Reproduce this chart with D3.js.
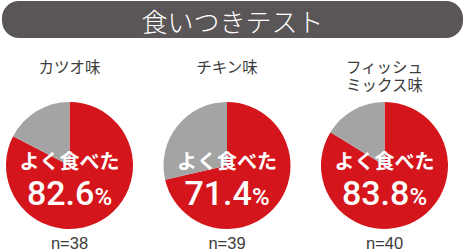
<!DOCTYPE html>
<html>
<head>
<meta charset="utf-8">
<script src="https://cdn.jsdelivr.net/npm/d3@7"></script>
<style>
  body { margin: 0; background: #fff; }
  svg { display: block; }
</style>
</head>
<body>
<svg id="chart" width="465" height="252"></svg>
<script>
// data
const titleText = "食いつきテスト";
const flavors = [["カツオ味"], ["チキン味"], ["フィッシュ", "ミックス味"]];
const goodRates = [82.6, 71.4, 83.8];
const sampleSizes = [38, 39, 40];
const goodLabel = "よく食べた";

const svg = d3.select("#chart");
const red = "#d4161c";
const grey = "#a4a4a4";
const jp = "'Noto Sans CJK JP', 'Noto Sans', sans-serif";

// title bar
svg.append("rect")
    .attr("x", 2).attr("y", 1)
    .attr("width", 461).attr("height", 37)
    .attr("rx", 17).attr("ry", 17)
    .attr("fill", "#5a5556");

svg.append("text")
    .attr("x", 232.5).attr("y", 20)
    .attr("text-anchor", "middle")
    .attr("dominant-baseline", "central")
    .attr("font-family", jp)
    .attr("font-weight", 300)
    .attr("font-size", 26)
    .attr("fill", "#fff")
    .text(titleText);

const x = d3.scalePoint()
    .domain(d3.range(goodRates.length))
    .range([69.5, 384.5]);

const cy = 165.5;
const radius = 63.5;

const pie = d3.pie().sort(null).value(d => d);
const arc = d3.arc().innerRadius(0).outerRadius(radius);

goodRates.forEach((rate, i) => {
    const g = svg.append("g").attr("transform", `translate(${x(i)},0)`);

    // flavour label (one or two lines)
    g.append("text")
        .attr("text-anchor", "middle")
        .attr("font-family", jp)
        .attr("font-size", 15.5)
        .attr("fill", "#3c3c3c")
        .selectAll("tspan")
        .data(flavors[i])
        .join("tspan")
        .attr("x", 0)
        .attr("y", (d, j) => 73 + j * 18)
        .text(d => d);

    const pg = g.append("g").attr("transform", `translate(0,${cy})`);
    pg.selectAll("path")
        .data(pie([rate, 100 - rate]))
        .join("path")
        .attr("d", arc)
        .attr("fill", (d, j) => j === 0 ? red : grey);

    pg.append("text")
        .attr("y", 3)
        .attr("text-anchor", "middle")
        .attr("font-family", jp)
        .attr("font-weight", "bold")
        .attr("font-size", 20)
        .attr("fill", "#fff")
        .text(goodLabel);

    const pct = pg.append("text")
        .attr("y", 39)
        .attr("text-anchor", "middle")
        .attr("font-family", "Roboto, 'Liberation Sans', Arial, sans-serif")
        .attr("font-weight", 500)
        .attr("fill", "#fff");
    pct.append("tspan").attr("font-size", 34).text(rate.toFixed(1));
    pct.append("tspan").attr("font-size", 24).text("%");

    g.append("text")
        .attr("y", 249)
        .attr("text-anchor", "middle")
        .attr("font-family", "'Liberation Sans', Arial, sans-serif")
        .attr("font-size", 16.5)
        .attr("fill", "#3c3c3c")
        .text("n=" + sampleSizes[i]);
});
</script>
</body>
</html>
